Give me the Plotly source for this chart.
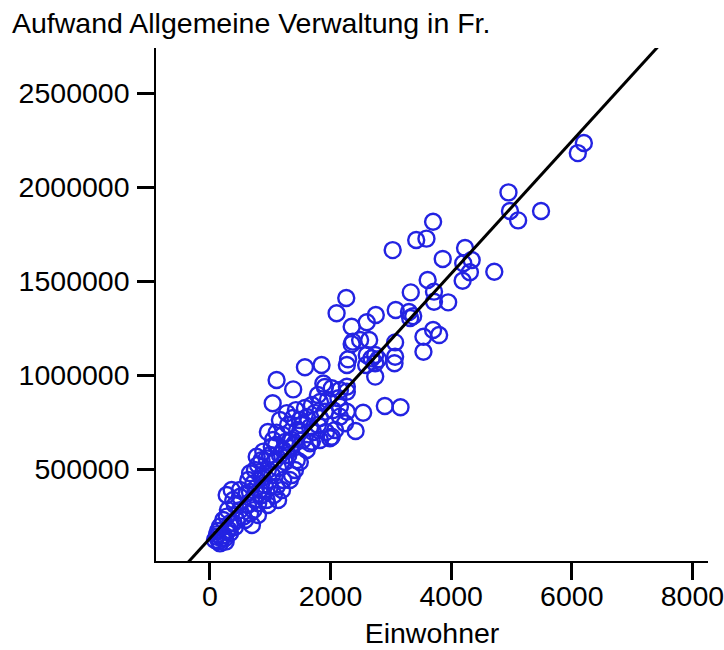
import plotly.graph_objects as go

# Einwohner (residents) per municipality
einwohner = [
    6200, 6100, 4950, 4975, 5110, 5490, 3700, 3420, 3590, 3030,
    3860, 4230, 4200, 4340, 4310, 4190, 4715, 3610, 3330, 3715,
    3715, 3950, 3080, 3300, 3370, 3320, 2750, 2600, 2260, 2100,
    2350, 2490, 2640, 2370, 2350, 3070, 3540, 3700, 3800, 3540,
    2600, 2740, 3070, 2290, 2270, 2680, 2790, 2740, 2590, 3060,
    2740, 1575, 1850, 1105, 1380, 1880, 1905, 2270, 2130, 1040,
    2900, 3160, 2540, 2415, 2075, 1990, 1105, 1690, 2020, 2155,
    2270, 1905, 2040, 2155, 2270, 2155, 2240, 2020, 1275, 1375,
    1490, 1610, 1740, 1825, 1660, 1445, 1295, 1210, 1540, 1660,
    1605, 1440, 1215, 1300, 1095, 1790, 1925, 1360, 1490, 885,
    1025, 775, 855, 940, 665, 745, 635, 720, 855, 360,
    277, 386, 497, 608, 995, 1105, 1215, 1325, 800, 940,
    720, 665, 277, 220, 166, 333, 443, 552, 111, 166,
    83, 249, 277, 830, 910, 1030, 1130, 1245, 1080, 960,
    860, 745, 630, 497, 580, 414, 333, 199, 133, 497,
    414, 298, 663, 763, 862, 796, 995, 1160, 1325, 1410,
    1245, 1045, 960, 1160, 1425, 1575, 1690, 1825, 1955, 1790,
    1525, 1710, 1825, 1410, 1490, 1360, 1195, 1060, 960, 1130,
    796, 696, 150, 230, 310, 120, 260, 390,
]

# Aufwand Allgemeine Verwaltung in Fr.
aufwand = [
    2236000, 2182000, 1973000, 1874000, 1824000, 1874000, 1817000, 1720000, 1727000, 1666000,
    1619000, 1677000, 1596000, 1613000, 1548000, 1503000, 1551000, 1507000, 1441000, 1445000,
    1391000, 1388000, 1347000, 1337000, 1315000, 1305000, 1321000, 1282000, 1411000, 1330000,
    1258000, 1188000, 1188000, 1179000, 1166000, 1175000, 1205000, 1241000, 1214000, 1125000,
    1108000, 1108000, 1099000, 1085000, 1055000, 1090000, 1085000, 1064000, 1055000, 1064000,
    993000, 1043000, 1055000, 975000, 925000, 956000, 938000, 913000, 878000, 851000,
    837000, 830000, 801000, 704000, 709000, 665000, 695000, 647000, 931000, 922000,
    939000, 806000, 815000, 833000, 806000, 780000, 745000, 673000, 799000, 773000,
    762000, 778000, 800000, 773000, 725000, 709000, 736000, 682000, 656000, 638000,
    603000, 549000, 603000, 576000, 629000, 736000, 698000, 656000, 698000, 594000,
    620000, 567000, 549000, 558000, 479000, 496000, 443000, 426000, 452000, 390000,
    363000, 337000, 354000, 372000, 407000, 407000, 443000, 443000, 319000, 337000,
    283000, 266000, 248000, 230000, 195000, 213000, 230000, 248000, 141000, 106000,
    124000, 133000, 168000, 390000, 416000, 470000, 507000, 539000, 549000, 496000,
    363000, 337000, 310000, 283000, 230000, 193000, 161000, 135000, 172000, 390000,
    310000, 283000, 379000, 401000, 470000, 523000, 576000, 576000, 613000, 640000,
    645000, 656000, 698000, 762000, 815000, 826000, 842000, 858000, 869000, 895000,
    736000, 698000, 656000, 496000, 539000, 470000, 390000, 363000, 310000, 337000,
    257000, 204000, 118000, 150000, 178000, 155000, 115000, 215000,
]

# Regression line
reg_intercept = 133000
reg_slope = 352

x_range = [-895, 8259]
y_range = [12200, 2741000]
x_ticks = [0, 2000, 4000, 6000, 8000]
y_ticks = [500000, 1000000, 1500000, 2000000, 2500000]

title_text = "Aufwand Allgemeine Verwaltung in Fr."
x_title = "Einwohner"

FONT = "Liberation Sans, Arial, sans-serif"
FS = 28.5

fig = go.Figure()
fig.add_trace(go.Scatter(
    x=einwohner, y=aufwand, mode="markers",
    marker=dict(symbol="circle-open", size=16, color="#2323e2",
                line=dict(width=2.4, color="#2323e2")),
    showlegend=False, cliponaxis=True,
))
line_x = [x_range[0], x_range[1]]
line_y = [reg_intercept + reg_slope * v for v in line_x]
fig.add_trace(go.Scatter(
    x=line_x, y=line_y, mode="lines",
    line=dict(color="black", width=3), showlegend=False,
))

axis_common = dict(
    showgrid=False, zeroline=False, showline=True, linecolor="black", linewidth=1.5,
    ticks="outside", ticklen=17, tickwidth=2.5, tickcolor="black", automargin=False,
    ticklabeloverflow="allow",
    tickfont=dict(family=FONT, size=FS, color="black"),
)
fig.update_xaxes(range=x_range, tickvals=x_ticks, tickformat="d", ticklabelstandoff=-8,
                 title=dict(text=x_title, font=dict(family=FONT, size=FS, color="black"), standoff=12),
                 **axis_common)
fig.update_yaxes(range=y_range, tickvals=y_ticks, tickformat="d", ticklabelstandoff=2, **axis_common)

fig.update_layout(
    width=724, height=650,
    margin=dict(l=156, r=16, t=48, b=89, autoexpand=False),
    plot_bgcolor="white", paper_bgcolor="white",
    font=dict(family=FONT, size=FS, color="black"),
    title=dict(text=title_text, x=12 / 724, xanchor="left", xref="container",
               y=1 - 23 / 650, yanchor="middle", yref="container",
               font=dict(family=FONT, size=FS, color="black")),
)

fig.write_html("out.html")
